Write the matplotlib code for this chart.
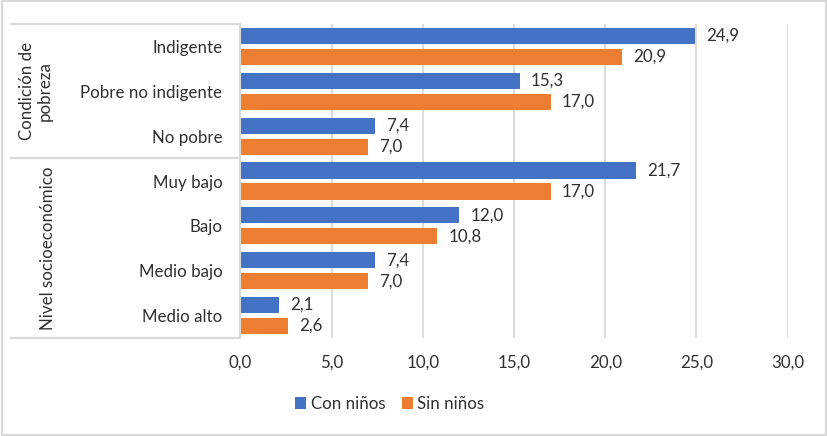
import matplotlib
matplotlib.use("Agg")
import matplotlib.pyplot as plt
from matplotlib.patches import Rectangle, Patch
from matplotlib.lines import Line2D
import numpy as np

categories = ["Indigente", "Pobre no indigente", "No pobre",
              "Muy bajo", "Bajo", "Medio bajo", "Medio alto"]
con_ninos = [24.9, 15.3, 7.4, 21.7, 12.0, 7.4, 2.1]
sin_ninos = [20.9, 17.0, 7.0, 17.0, 10.8, 7.0, 2.6]
series_names = ["Con niños", "Sin niños"]
groups = ["Condición de\npobreza", "Nivel socioeconómico"]
xticks = [0, 5, 10, 15, 20, 25, 30]

BLUE = "#4472C4"
ORANGE = "#ED7D31"
TXT = "#303030"
GRID = "#D9D9D9"
FONT = "Lato"
FS = 12.2

W, H = 828, 436
fig = plt.figure(figsize=(W / 100, H / 100), dpi=100)

def fx(px):
    return px / W

def fy(py):
    return 1 - py / H

x0, x1, ytop, ybot = 240.5, 787.7, 24, 338
ax = fig.add_axes([fx(x0), fy(ybot), fx(x1) - fx(x0), fy(ytop) - fy(ybot)])

y = np.arange(len(categories))
off = 0.235
h = 0.36
ax.barh(y - off, con_ninos, height=h, color=BLUE, zorder=3)
ax.barh(y + off, sin_ninos, height=h, color=ORANGE, zorder=3)

for yi, v in zip(y - off, con_ninos):
    ax.annotate(f"{v:.1f}".replace(".", ","), (v, yi), xytext=(8, 0),
                textcoords="offset points", va="center", ha="left",
                fontsize=FS, color=TXT, family=FONT)
for yi, v in zip(y + off, sin_ninos):
    ax.annotate(f"{v:.1f}".replace(".", ","), (v, yi), xytext=(8, 0),
                textcoords="offset points", va="center", ha="left",
                fontsize=FS, color=TXT, family=FONT)

ax.set_xlim(0, 30)
ax.set_ylim(len(categories) - 0.5, -0.5)
ax.set_xticks(xticks)
ax.set_xticklabels([f"{t:.1f}".replace(".", ",") for t in xticks],
                   fontsize=FS, color=TXT, family=FONT)
ax.set_yticks(y)
ax.set_yticklabels(categories, fontsize=FS, color=TXT, family=FONT)
ax.tick_params(axis="x", length=0, pad=12)
ax.tick_params(axis="y", length=0, pad=13)
ax.xaxis.grid(True, color=GRID, linewidth=1.3, zorder=0)
for s in ["top", "right", "bottom"]:
    ax.spines[s].set_visible(False)
ax.spines["left"].set_color(GRID)
ax.spines["left"].set_linewidth(1.5)
ax.spines["left"].set_zorder(4)

# group separators
for py in [ytop, 158.5, ybot]:
    fig.add_artist(Line2D([fx(11), fx(x0)], [fy(py), fy(py)],
                          color=GRID, linewidth=1.5))

fig.text(fx(36), fy(91), groups[0], rotation=90, ha="center", va="center",
         fontsize=FS, color=TXT, family=FONT, linespacing=1.15,
         multialignment="center")
fig.text(fx(48), fy(248), groups[1], rotation=90, ha="center", va="center",
         fontsize=FS, color=TXT, family=FONT)

handles = [Patch(facecolor=BLUE), Patch(facecolor=ORANGE)]
fig.legend(handles, series_names, loc="center", bbox_to_anchor=(fx(390), fy(404)),
           ncol=2, frameon=False, handlelength=0.65, handleheight=0.65,
           handletextpad=0.25, columnspacing=1.0,
           prop={"family": FONT, "size": FS}, labelcolor=TXT)

fig.add_artist(Rectangle((0.002, 0.003), 0.996, 0.994, transform=fig.transFigure,
                         fill=False, edgecolor=GRID, linewidth=1.5))

fig.savefig("out.png", dpi=100)
